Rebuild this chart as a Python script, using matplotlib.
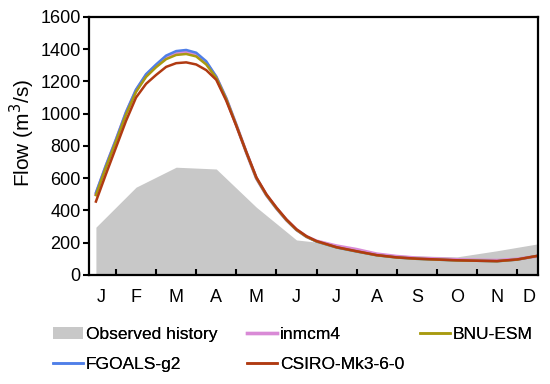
import numpy as np
import matplotlib
matplotlib.use("Agg")
import matplotlib.pyplot as plt

plt.rcParams['font.family'] = ['Liberation Sans', 'DejaVu Sans']

# month labels and the observed monthly flow (month centres)
months = ['J', 'F', 'M', 'A', 'M', 'J', 'J', 'A', 'S', 'O', 'N', 'D']
obs_x = [0.5, 1.5, 2.5, 3.5, 4.5, 5.5, 6.5, 7.5, 8.5, 9.5, 10.5, 11.5]
observed = [296, 544, 668, 657, 420, 217, 190, 130, 118, 112, 150, 192]

# model curves: quarter months up to June, then half months
mod_x = [0.5, 0.75, 1.0, 1.25, 1.5, 1.75, 2.0, 2.25, 2.5, 2.75, 3.0, 3.25,
         3.5, 3.75, 4.0, 4.25, 4.5, 4.75, 5.0, 5.25, 5.5, 5.75, 6.0,
         6.5, 7.0, 7.5, 8.0, 8.5, 9.0, 9.5, 10.0, 10.5, 11.0, 11.5]
inmcm4 = [500, 674, 835, 1003, 1143, 1237, 1297, 1350, 1377, 1383, 1366, 1315,
          1226, 1092, 929, 760, 600, 496, 414, 341, 281, 238, 210,
          180, 158, 130, 115, 105, 100, 95, 92, 90, 98, 116]
fgoals = [510, 680, 840, 1010, 1150, 1245, 1305, 1360, 1388, 1395, 1378, 1325,
          1230, 1095, 930, 760, 600, 495, 413, 340, 279, 237, 207,
          170, 145, 122, 108, 100, 95, 90, 88, 85, 95, 118]
bnu = [495, 668, 828, 995, 1135, 1228, 1288, 1338, 1364, 1370, 1355, 1305,
       1222, 1090, 928, 760, 601, 496, 414, 341, 280, 237, 208,
       171, 146, 122, 108, 100, 95, 90, 88, 85, 95, 118]
csiro = [455, 625, 790, 955, 1100, 1185, 1240, 1290, 1313, 1318, 1305, 1270,
         1210, 1080, 925, 762, 605, 500, 418, 344, 283, 240, 210,
         172, 147, 123, 109, 101, 96, 91, 88, 86, 96, 118]

fig = plt.figure(figsize=(5.5, 3.84), dpi=100)
ax = fig.add_axes([0.162, 0.284, 0.816, 0.672])

obs = ax.fill_between(obs_x, observed, 0, color='#c8c8c8', lw=0)
l_in, = ax.plot(mod_x, inmcm4, color='#d98ad6', lw=2.4)
l_fg, = ax.plot(mod_x, fgoals, color='#4f7fe8', lw=1.8)
l_bnu, = ax.plot(mod_x, bnu, color='#a89a10', lw=1.8)
l_cs, = ax.plot(mod_x, csiro, color='#b03a12', lw=1.8)

ax.set_xlim(0.33, 11.52)
ax.set_ylim(0, 1600)
ax.set_yticks(range(0, 1601, 200))
ax.tick_params(axis='y', direction='out', length=4, width=1.5, labelsize=13, pad=2)

ax.set_xticks(range(1, 12))
ax.set_xticklabels([])
ax.tick_params(axis='x', which='major', direction='in', length=4, width=1.5)
label_pos = [0.62] + obs_x[1:-1] + [11.3]
ax.set_xticks(label_pos, minor=True)
ax.set_xticklabels(months, minor=True)
ax.tick_params(axis='x', which='minor', length=0, labelsize=13, pad=10)

for s in ax.spines.values():
    s.set_linewidth(1.6)

ax.set_ylabel('Flow (m$^3$/s)', fontsize=15)
ax.yaxis.set_label_coords(-0.115, 0.55)

# legend: three columns placed like the original
leg_kw = dict(frameon=False, fontsize=12.5, loc='upper left', borderpad=0,
              borderaxespad=0, handlelength=1.7, handletextpad=0.2,
              labelspacing=0.85)
cols = [([obs, l_fg], ['Observed history', 'FGOALS-g2'], 53),
        ([l_in, l_cs], ['inmcm4', 'CSIRO-Mk3-6-0'], 247),
        ([l_bnu], ['BNU-ESM'], 420)]
for handles, labels, xpx in cols:
    lg = fig.legend(handles, labels, bbox_to_anchor=(xpx / 550, 1 - 327 / 384), **leg_kw)
    fig.add_artist(lg)

fig.savefig('out.png', dpi=100)
